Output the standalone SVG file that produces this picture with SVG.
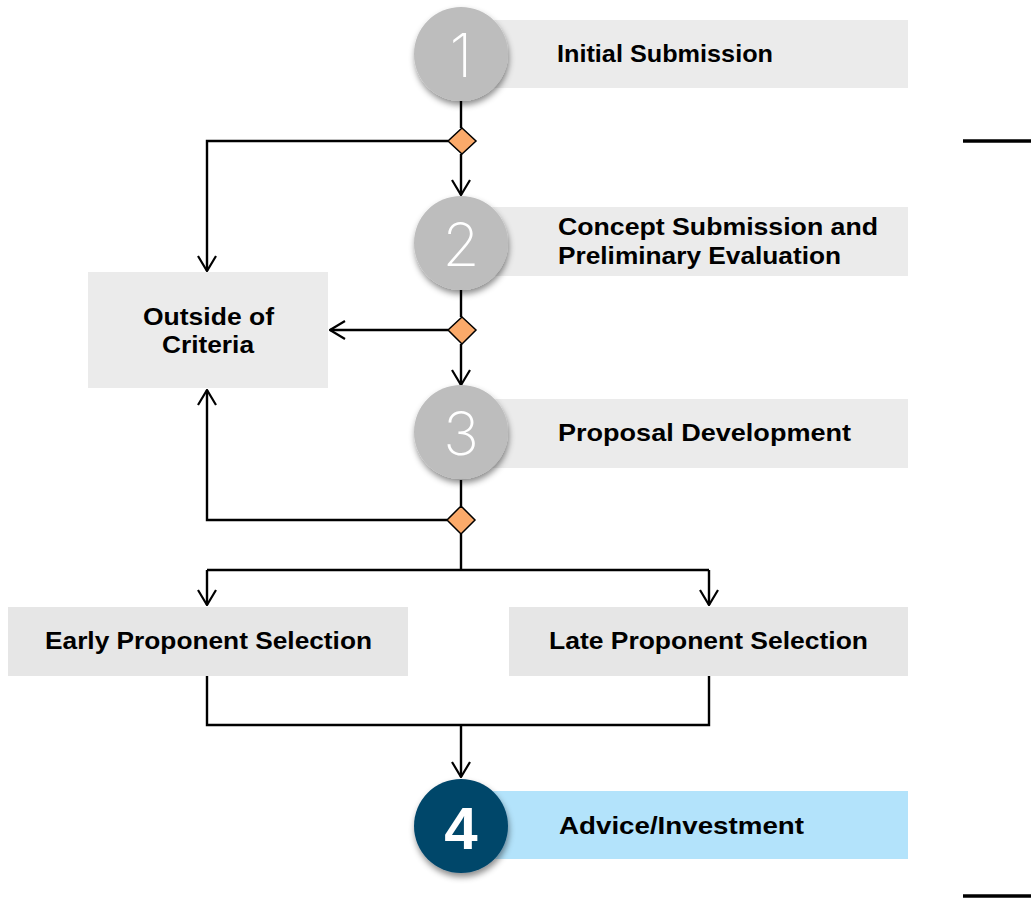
<svg xmlns="http://www.w3.org/2000/svg" width="1031" height="899" viewBox="0 0 1031 899">
<style>
.box{fill:#EBEBEB}
.box2{fill:#E6E6E6}
.lbl{font-family:"Liberation Sans",Arial,sans-serif;font-weight:bold;font-size:24px;fill:#000}
.num{font-family:Inter,"Open Sans","Liberation Sans",sans-serif;font-weight:200;font-size:60px;fill:#fff;text-anchor:middle}
.circ{fill:#BDBDBD;filter:url(#sh)}
.dia{fill:#FBAA6A;stroke:#000;stroke-width:1.5}
.ln{fill:none;stroke:#000;stroke-width:2.4}
</style>
<defs>
<filter id="sh" x="-30%" y="-30%" width="160%" height="170%">
<feDropShadow dx="1" dy="4" stdDeviation="3" flood-color="#000" flood-opacity="0.45"/>
</filter>
<marker id="ar" viewBox="0 0 17 20" refX="16" refY="10" markerWidth="17" markerHeight="20" markerUnits="userSpaceOnUse" orient="auto">
<path d="M1,1 L16,10 L1,19" fill="none" stroke="#000" stroke-width="2.2"/>
</marker>
</defs>

<g id="connectors">
<path class="ln" d="M461,100 L461,128"/>
<path class="ln" d="M461,154 L461,195" marker-end="url(#ar)"/>
<path class="ln" d="M448,141 L207,141 L207,271" marker-end="url(#ar)"/>
<path class="ln" d="M461,290 L461,317"/>
<path class="ln" d="M448,330 L330,330" marker-end="url(#ar)"/>
<path class="ln" d="M461,344 L461,385" marker-end="url(#ar)"/>
<path class="ln" d="M461,480 L461,506"/>
<path class="ln" d="M447,520 L207,520 L207,390" marker-end="url(#ar)"/>
<path class="ln" d="M461,534 L461,570"/>
<path class="ln" d="M207,570 L709,570" stroke-width="3"/>
<path class="ln" d="M207,570 L207,605" marker-end="url(#ar)"/>
<path class="ln" d="M709,570 L709,605" marker-end="url(#ar)"/>
<path class="ln" d="M207,676 L207,725 L709,725 L709,676"/>
<path class="ln" d="M461,725 L461,777" marker-end="url(#ar)"/>
<path d="M963,141 L1031,141" stroke="#000" stroke-width="3.5"/>
<path d="M963,896 L1031,896" stroke="#000" stroke-width="3.5"/>
</g>

<g id="d1"><polygon class="dia" points="462,128 476,141 462,154 448,141"/></g>
<g id="d2"><polygon class="dia" points="462,317 476,330 462,344 448,330"/></g>
<g id="d3"><polygon class="dia" points="461,506 475,520 461,534 447,520"/></g>

<g id="step1">
<rect class="box" x="461" y="20" width="447" height="68"/>
<circle class="circ" cx="461" cy="54" r="47"/>
<text class="num" x="461" y="77">1</text>
<text class="lbl" x="557" y="62" textLength="216" lengthAdjust="spacingAndGlyphs">Initial Submission</text>
</g>

<g id="step2">
<rect class="box" x="461" y="207" width="447" height="69"/>
<circle class="circ" cx="461" cy="243" r="47"/>
<text class="num" x="461" y="266">2</text>
<text class="lbl" x="558" y="235" textLength="320" lengthAdjust="spacingAndGlyphs">Concept Submission and</text>
<text class="lbl" x="558" y="264" textLength="283" lengthAdjust="spacingAndGlyphs">Preliminary Evaluation</text>
</g>

<g id="outside">
<rect class="box" x="88" y="272" width="240" height="116"/>
<text class="lbl" x="143" y="325" textLength="131" lengthAdjust="spacingAndGlyphs">Outside of</text>
<text class="lbl" x="162" y="353" textLength="92" lengthAdjust="spacingAndGlyphs">Criteria</text>
</g>

<g id="step3">
<rect class="box" x="461" y="399" width="447" height="69"/>
<circle class="circ" cx="461" cy="432" r="47"/>
<text class="num" x="461" y="455">3</text>
<text class="lbl" x="558" y="441" textLength="293" lengthAdjust="spacingAndGlyphs">Proposal Development</text>
</g>

<g id="early">
<rect class="box2" x="8" y="607" width="400" height="69"/>
<text class="lbl" x="45" y="649" textLength="327" lengthAdjust="spacingAndGlyphs">Early Proponent Selection</text>
</g>

<g id="late">
<rect class="box2" x="509" y="607" width="399" height="69"/>
<text class="lbl" x="549" y="649" textLength="319" lengthAdjust="spacingAndGlyphs">Late Proponent Selection</text>
</g>

<g id="step4">
<rect x="461" y="791" width="447" height="68" fill="#B3E3FB"/>
<circle cx="461" cy="826" r="47" fill="#02466B" filter="url(#sh)"/>
<text class="num" x="461" y="849" style="font-weight:bold;font-family:'Liberation Sans',sans-serif">4</text>
<text class="lbl" x="559" y="834" textLength="245" lengthAdjust="spacingAndGlyphs">Advice/Investment</text>
</g>
</svg>
